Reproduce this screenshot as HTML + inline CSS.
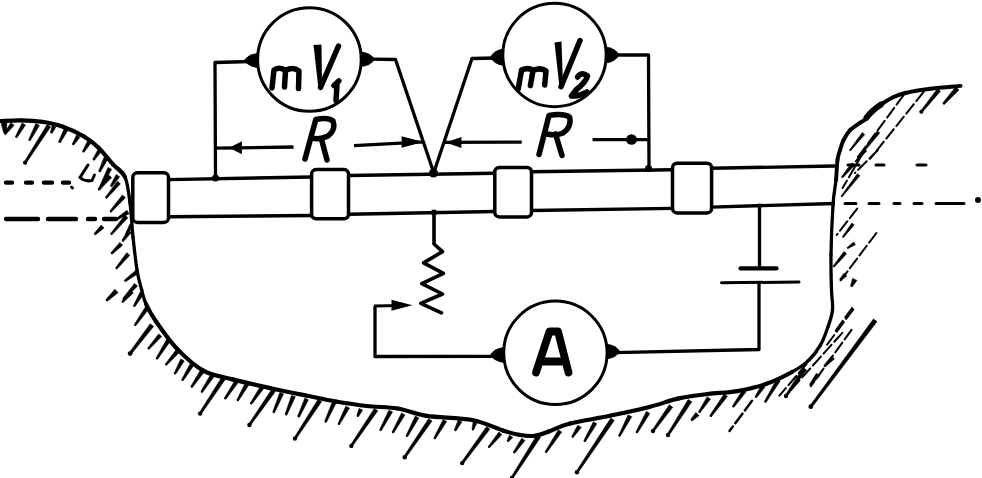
<!DOCTYPE html>
<html><head><meta charset="utf-8"><title>Pipe potential measurement diagram</title>
<style>html,body{margin:0;padding:0;background:#fff;width:982px;height:478px;overflow:hidden;font-family:"Liberation Sans",sans-serif}svg{display:block}</style>
</head><body>
<svg width="982" height="478" viewBox="0 0 982 478"><path d="M0.0 121.0 C3.5 120.9 14.0 120.2 21.0 120.3" fill="none" stroke="#000" stroke-width="4.2" stroke-linecap="round"/>
<path d="M21.0 120.3 C28.0 120.4 35.0 120.7 42.0 121.8" fill="none" stroke="#000" stroke-width="4.2" stroke-linecap="round"/>
<path d="M42.0 121.8 C49.0 122.9 56.0 124.3 63.0 126.8" fill="none" stroke="#000" stroke-width="4.2" stroke-linecap="round"/>
<path d="M63.0 126.8 C70.0 129.2 78.2 133.1 84.0 136.5" fill="none" stroke="#000" stroke-width="4.2" stroke-linecap="round"/>
<path d="M84.0 136.5 C89.8 139.9 93.2 142.6 98.0 147.2" fill="none" stroke="#000" stroke-width="4.2" stroke-linecap="round"/>
<path d="M98.0 147.2 C102.8 151.8 108.5 159.3 113.0 164.3" fill="none" stroke="#000" stroke-width="4.2" stroke-linecap="round"/>
<path d="M113.0 164.3 C117.5 169.3 122.2 170.6 125.0 177.0" fill="none" stroke="#000" stroke-width="4.2" stroke-linecap="round"/>
<path d="M125.0 177.0 C127.8 183.4 128.7 193.0 130.0 203.0" fill="none" stroke="#000" stroke-width="3.3" stroke-linecap="round"/>
<path d="M130.0 203.0 C131.3 213.0 131.8 225.8 133.0 237.0" fill="none" stroke="#000" stroke-width="3.3" stroke-linecap="round"/>
<path d="M133.0 237.0 C134.2 248.2 135.6 261.2 137.0 270.0" fill="none" stroke="#000" stroke-width="3.3" stroke-linecap="round"/>
<path d="M137.0 270.0 C138.4 278.8 140.2 284.3 141.7 290.0" fill="none" stroke="#000" stroke-width="3.3" stroke-linecap="round"/>
<path d="M141.7 290.0 C143.2 295.7 143.6 298.7 146.0 304.0" fill="none" stroke="#000" stroke-width="3.3" stroke-linecap="round"/>
<path d="M146.0 304.0 C148.4 309.3 151.2 314.6 156.4 322.0" fill="none" stroke="#000" stroke-width="4.2" stroke-linecap="round"/>
<path d="M156.4 322.0 C161.6 329.4 169.1 340.5 176.9 348.6" fill="none" stroke="#000" stroke-width="4.2" stroke-linecap="round"/>
<path d="M176.9 348.6 C184.7 356.7 194.0 365.5 203.3 370.6" fill="none" stroke="#000" stroke-width="4.2" stroke-linecap="round"/>
<path d="M203.3 370.6 C212.6 375.7 221.4 376.5 232.6 379.4" fill="none" stroke="#000" stroke-width="4.2" stroke-linecap="round"/>
<path d="M232.6 379.4 C243.8 382.3 258.5 385.5 270.7 388.2" fill="none" stroke="#000" stroke-width="4.2" stroke-linecap="round"/>
<path d="M270.7 388.2 C282.9 390.9 295.0 393.3 305.9 395.5" fill="none" stroke="#000" stroke-width="4.2" stroke-linecap="round"/>
<path d="M305.9 395.5 C316.8 397.7 325.9 399.8 336.0 401.5" fill="none" stroke="#000" stroke-width="4.2" stroke-linecap="round"/>
<path d="M336.0 401.5 C346.1 403.2 356.5 404.8 366.8 406.0" fill="none" stroke="#000" stroke-width="4.2" stroke-linecap="round"/>
<path d="M366.8 406.0 C377.1 407.2 387.9 406.9 397.8 408.5" fill="none" stroke="#000" stroke-width="4.2" stroke-linecap="round"/>
<path d="M397.8 408.5 C407.7 410.1 414.0 413.9 426.4 415.8" fill="none" stroke="#000" stroke-width="4.2" stroke-linecap="round"/>
<path d="M426.4 415.8 C438.8 417.7 459.5 417.6 472.2 420.0" fill="none" stroke="#000" stroke-width="4.2" stroke-linecap="round"/>
<path d="M472.2 420.0 C484.9 422.4 495.0 428.0 502.8 430.5" fill="none" stroke="#000" stroke-width="4.2" stroke-linecap="round"/>
<path d="M502.8 430.5 C510.6 433.0 513.6 433.9 519.0 434.8" fill="none" stroke="#000" stroke-width="4.2" stroke-linecap="round"/>
<path d="M519.0 434.8 C524.4 435.7 530.0 436.4 535.0 435.8" fill="none" stroke="#000" stroke-width="4.2" stroke-linecap="round"/>
<path d="M535.0 435.8 C540.0 435.2 542.9 433.6 548.7 431.5" fill="none" stroke="#000" stroke-width="4.2" stroke-linecap="round"/>
<path d="M548.7 431.5 C554.5 429.4 559.8 426.1 570.0 423.5" fill="none" stroke="#000" stroke-width="4.2" stroke-linecap="round"/>
<path d="M570.0 423.5 C580.2 420.9 596.5 418.6 609.7 415.8" fill="none" stroke="#000" stroke-width="4.2" stroke-linecap="round"/>
<path d="M609.7 415.8 C622.9 413.1 637.8 409.9 649.3 407.0" fill="none" stroke="#000" stroke-width="4.2" stroke-linecap="round"/>
<path d="M649.3 407.0 C660.8 404.1 668.8 400.6 678.6 398.4" fill="none" stroke="#000" stroke-width="4.2" stroke-linecap="round"/>
<path d="M678.6 398.4 C688.4 396.2 698.1 395.2 707.9 394.0" fill="none" stroke="#000" stroke-width="4.2" stroke-linecap="round"/>
<path d="M707.9 394.0 C717.7 392.8 727.4 392.8 737.2 391.1" fill="none" stroke="#000" stroke-width="4.2" stroke-linecap="round"/>
<path d="M737.2 391.1 C747.0 389.4 757.4 387.0 766.5 383.8" fill="none" stroke="#000" stroke-width="4.2" stroke-linecap="round"/>
<path d="M766.5 383.8 C775.6 380.6 785.1 375.8 792.0 372.0" fill="none" stroke="#000" stroke-width="4.2" stroke-linecap="round"/>
<path d="M792.0 372.0 C798.9 368.2 803.0 365.5 807.7 361.1" fill="none" stroke="#000" stroke-width="3.3" stroke-linecap="round"/>
<path d="M807.7 361.1 C812.4 356.7 816.9 351.2 820.3 345.4" fill="none" stroke="#000" stroke-width="3.3" stroke-linecap="round"/>
<path d="M820.3 345.4 C823.7 339.6 826.1 332.4 828.1 326.5" fill="none" stroke="#000" stroke-width="3.3" stroke-linecap="round"/>
<path d="M828.1 326.5 C830.1 320.6 831.9 316.1 832.5 310.0" fill="none" stroke="#000" stroke-width="3.3" stroke-linecap="round"/>
<path d="M832.5 310.0 C833.1 303.9 831.8 299.2 831.5 290.0" fill="none" stroke="#000" stroke-width="3.3" stroke-linecap="round"/>
<path d="M831.5 290.0 C831.2 280.8 830.8 269.0 831.0 254.8" fill="none" stroke="#000" stroke-width="3.3" stroke-linecap="round"/>
<path d="M831.0 254.8 C831.2 240.6 832.2 217.5 833.0 205.0" fill="none" stroke="#000" stroke-width="3.3" stroke-linecap="round"/>
<path d="M833.0 205.0 C833.8 192.5 835.2 187.5 836.0 180.0" fill="none" stroke="#000" stroke-width="3.3" stroke-linecap="round"/>
<path d="M836.0 180.0 C836.8 172.5 836.8 164.9 837.5 160.0" fill="none" stroke="#000" stroke-width="3.9" stroke-linecap="round"/>
<path d="M837.5 160.0 C838.2 155.1 839.0 153.6 840.0 150.3" fill="none" stroke="#000" stroke-width="3.9" stroke-linecap="round"/>
<path d="M840.0 150.3 C841.0 147.0 841.7 143.7 843.4 140.3" fill="none" stroke="#000" stroke-width="3.9" stroke-linecap="round"/>
<path d="M843.4 140.3 C845.1 137.0 847.3 133.1 850.1 130.2" fill="none" stroke="#000" stroke-width="3.9" stroke-linecap="round"/>
<path d="M850.1 130.2 C852.9 127.3 857.3 124.7 860.1 122.7" fill="none" stroke="#000" stroke-width="3.9" stroke-linecap="round"/>
<path d="M860.1 122.7 C862.9 120.8 865.1 120.0 866.8 118.5" fill="none" stroke="#000" stroke-width="3.9" stroke-linecap="round"/>
<path d="M866.8 118.5 C868.5 117.0 868.0 115.7 870.2 113.5" fill="none" stroke="#000" stroke-width="3.9" stroke-linecap="round"/>
<path d="M870.2 113.5 C872.4 111.3 876.3 107.8 880.2 105.1" fill="none" stroke="#000" stroke-width="3.9" stroke-linecap="round"/>
<path d="M880.2 105.1 C884.1 102.3 889.4 99.0 893.6 97.0" fill="none" stroke="#000" stroke-width="3.9" stroke-linecap="round"/>
<path d="M893.6 97.0 C897.8 95.0 899.2 94.4 905.4 93.0" fill="none" stroke="#000" stroke-width="3.9" stroke-linecap="round"/>
<path d="M905.4 93.0 C911.5 91.6 921.3 90.0 930.5 88.8" fill="none" stroke="#000" stroke-width="3.9" stroke-linecap="round"/>
<path d="M930.5 88.8 C939.7 87.6 955.6 86.4 960.6 85.9" fill="none" stroke="#000" stroke-width="3.9" stroke-linecap="round"/>
<path d="M866.5 117.5 Q872 110.5 881 104.5" fill="none" stroke="#000" stroke-width="6" stroke-linecap="round"/>
<path d="M752.0 400.8 L729.5 431.0" stroke="#000" stroke-width="2.5" stroke-linecap="round" stroke-dasharray="12 4"/>
<path d="M853.3 309.3 L826.5 345.4" stroke="#000" stroke-width="2.0" stroke-linecap="round" stroke-dasharray="12 4"/>
<path d="M851.7 329.7 L810.8 386.2" stroke="#000" stroke-width="2.0" stroke-linecap="round" stroke-dasharray="12 4"/>
<path d="M842.3 332.8 L785.7 395.7" stroke="#000" stroke-width="2.0" stroke-linecap="round" stroke-dasharray="12 4"/>
<path d="M817.1 351.7 L779.4 395.7" stroke="#000" stroke-width="2.0" stroke-linecap="round" stroke-dasharray="12 4"/>
<path d="M852.2 307.9 L833.8 333.2" stroke="#000" stroke-width="1.9" stroke-linecap="round" stroke-dasharray="12 4"/>
<path d="M876.4 233.0 L840.7 280.3" stroke="#000" stroke-width="2.0" stroke-linecap="round" stroke-dasharray="12 4"/>
<path d="M857.2 208.6 L836.7 235.0" stroke="#000" stroke-width="2.0" stroke-linecap="round" stroke-dasharray="12 4"/>
<path d="M878.0 150.0 L855.0 173.0" stroke="#000" stroke-width="2.0" stroke-linecap="round" stroke-dasharray="12 4"/>
<path d="M863.0 153.0 L842.6 188.0" stroke="#000" stroke-width="2.0" stroke-linecap="round" stroke-dasharray="12 4"/>
<path d="M923.8 91.7 L870.2 158.7" stroke="#000" stroke-width="2.0" stroke-linecap="round" stroke-dasharray="12 4"/>
<path d="M903.7 95.0 L856.8 158.7" stroke="#000" stroke-width="2.0" stroke-linecap="round" stroke-dasharray="12 4"/>
<path d="M1.2 123.3 L3.5 132.2 L6.5 131.8 L6.8 122.7 Z M10.9 122.8 L4.2 133.2 L5.8 134.4 L14.1 125.2 Z M22.1 123.0 L15.5 136.5 L17.1 137.5 L25.5 125.0 Z M35.8 123.6 L28.7 139.7 L30.3 140.5 L39.4 125.4 Z M47.2 124.6 L24.2 162.1 L26.0 163.3 L50.6 126.8 Z M52.2 125.5 L50.5 132.2 L52.3 133.0 L55.8 127.1 Z M64.2 128.6 L58.7 141.6 L60.5 142.4 L67.8 130.4 Z M76.6 135.0 L72.4 143.7 L74.0 144.7 L80.0 137.2 Z M87.6 140.9 L82.6 151.0 L84.2 152.0 L91.0 143.1 Z M98.3 148.9 L92.9 159.1 L94.5 160.1 L101.7 151.1 Z M104.2 157.1 L98.7 170.9 L100.5 171.7 L107.8 158.9 Z M108.0 167.5 L98.7 188.5 L100.5 189.3 L111.6 169.3 Z M116.2 174.6 L110.5 185.4 L112.1 186.4 L119.6 176.8 Z M108.6 175.0 L98.1 188.8 L99.5 190.0 L111.6 177.6 Z M117.4 181.2 L105.6 197.0 L107.0 198.2 L120.4 183.8 Z M122.4 195.1 L110.0 210.8 L111.4 212.0 L125.4 197.7 Z M126.9 210.3 L116.5 218.2 L117.5 219.8 L129.1 213.7 Z M101.2 225.1 L94.3 233.3 L95.7 234.7 L104.0 227.9 Z M124.9 215.2 L110.7 233.4 L112.1 234.6 L127.9 217.8 Z M129.8 224.3 L125.6 233.5 L127.2 234.5 L133.2 226.3 Z M128.2 230.1 L122.0 240.1 L123.6 241.3 L131.4 232.5 Z M119.8 242.4 L111.1 252.6 L112.5 254.0 L122.6 245.2 Z M126.8 252.7 L115.8 267.6 L117.2 268.8 L129.8 255.3 Z M135.7 270.4 L124.5 280.0 L125.7 281.6 L138.1 273.6 Z M134.5 283.4 L122.9 298.2 L124.3 299.4 L137.5 286.0 Z M114.9 289.3 L106.2 299.2 L107.8 300.8 L118.1 292.7 Z M130.3 290.3 L121.9 301.1 L123.3 302.3 L133.3 293.1 Z M140.1 292.3 L133.5 305.4 L135.1 306.4 L143.5 294.3 Z M145.2 307.3 L134.3 324.6 L135.9 325.6 L148.4 309.5 Z M150.2 323.8 L129.1 352.9 L131.1 354.3 L153.6 326.4 Z M158.7 333.9 L147.8 348.0 L149.2 349.2 L161.7 336.5 Z M166.9 339.1 L156.1 358.1 L157.7 359.1 L170.3 341.3 Z M175.5 350.6 L165.4 363.9 L166.8 365.1 L178.5 353.2 Z M180.8 359.0 L174.2 372.9 L175.8 373.9 L184.2 361.0 Z M190.0 364.0 L181.7 379.6 L183.3 380.6 L193.4 366.0 Z M200.1 370.7 L190.9 386.3 L192.5 387.3 L203.5 372.9 Z M210.9 374.0 L201.0 391.3 L202.6 392.3 L214.3 376.2 Z M221.8 377.2 L199.2 413.0 L201.0 414.2 L225.2 379.6 Z M235.2 379.9 L224.4 398.0 L226.0 399.0 L238.6 382.1 Z M245.2 383.3 L236.9 399.7 L238.5 400.7 L248.6 385.3 Z M260.4 386.5 L250.3 403.0 L251.9 404.0 L263.6 388.7 Z M272.0 389.0 L248.5 424.4 L250.3 425.6 L275.4 391.4 Z M279.9 392.4 L272.8 411.8 L274.6 412.6 L283.5 394.0 Z M291.5 395.4 L285.2 414.0 L287.0 414.8 L295.3 396.8 Z M304.8 398.2 L297.7 416.2 L299.5 417.0 L308.4 399.8 Z M318.0 399.4 L294.0 438.0 L295.8 439.2 L321.6 401.6 Z M332.6 401.2 L324.7 421.3 L326.5 422.1 L336.2 402.8 Z M345.8 406.2 L338.0 423.6 L339.6 424.4 L349.4 408.0 Z M359.0 408.5 L356.9 415.5 L358.7 416.3 L362.6 410.1 Z M374.4 408.4 L350.4 445.3 L352.2 446.5 L377.8 410.8 Z M388.9 410.2 L379.7 429.6 L381.3 430.6 L392.5 412.0 Z M401.5 413.0 L392.2 431.8 L393.8 432.8 L404.9 415.0 Z M415.3 416.1 L406.1 435.5 L407.7 436.5 L418.9 417.9 Z M428.6 418.7 L403.8 456.6 L405.6 457.8 L432.0 421.1 Z M443.2 419.6 L433.9 437.7 L435.5 438.7 L446.6 421.6 Z M458.2 420.1 L454.4 429.8 L456.2 430.6 L461.8 421.9 Z M473.3 421.2 L472.0 429.1 L473.8 429.7 L477.1 422.4 Z M486.5 426.7 L461.3 462.4 L463.1 463.8 L489.9 429.1 Z M498.9 432.0 L488.3 446.4 L489.7 447.6 L501.9 434.6 Z M509.4 435.2 L507.2 440.4 L508.8 441.4 L512.8 437.4 Z M521.7 438.3 L513.4 451.9 L515.0 452.9 L524.9 440.5 Z M536.8 435.2 L511.0 477.4 L512.8 478.6 L540.4 437.4 Z M558.3 429.9 L545.2 451.5 L546.8 452.5 L561.7 432.1 Z M577.8 425.2 L571.8 436.2 L573.4 437.2 L581.2 427.4 Z M593.4 421.8 L583.9 440.5 L585.5 441.5 L596.8 423.8 Z M610.8 418.1 L576.0 471.7 L577.8 472.9 L614.2 420.5 Z M628.1 414.9 L618.6 435.4 L620.2 436.2 L631.7 416.7 Z M646.4 411.4 L636.0 431.8 L637.6 432.8 L649.8 413.4 Z M669.3 404.8 L652.1 430.4 L653.9 431.6 L672.7 407.2 Z M688.2 399.6 L667.1 434.4 L668.9 435.6 L691.8 401.8 Z M707.1 396.9 L698.6 411.5 L700.2 412.5 L710.5 399.1 Z M695.9 412.4 L691.2 418.8 L692.8 420.4 L699.1 415.6 Z M724.2 394.0 L709.9 415.3 L711.5 416.5 L727.4 396.4 Z M743.0 389.3 L732.5 405.9 L734.1 407.1 L746.2 391.7 Z M761.7 384.7 L755.1 396.5 L756.7 397.5 L765.1 386.9 Z M776.8 379.0 L764.5 401.3 L766.1 402.3 L780.2 381.0 Z M803.1 367.6 L785.1 395.4 L786.9 396.6 L806.5 370.0 Z M816.4 373.3 L809.7 384.2 L811.3 385.4 L819.6 375.7 Z M831.6 356.1 L823.9 365.3 L825.3 366.7 L834.4 358.9 Z M873.4 319.0 L809.8 406.0 L811.8 407.4 L877.0 321.6 Z M852.7 278.4 L850.7 285.2 L852.7 286.2 L856.9 280.4 Z M844.0 273.3 L840.0 278.7 L841.4 280.1 L846.8 276.1 Z M853.6 242.1 L847.2 247.5 L848.0 248.5 L855.4 244.7 Z M844.0 251.5 L833.2 265.9 L834.4 266.9 L846.6 253.7 Z M851.8 223.1 L842.5 236.6 L843.5 237.4 L854.2 224.9 Z M857.4 173.8 L841.1 196.0 L842.1 196.8 L859.8 175.8 Z M851.8 162.8 L841.7 176.5 L843.1 177.5 L854.6 165.2 Z M864.4 149.0 L855.0 161.2 L856.0 162.0 L866.8 151.0 Z M955.6 86.9 L943.1 102.7 L944.7 104.1 L959.0 89.9 Z M937.4 88.8 L920.5 111.2 L922.1 112.4 L940.4 91.2 Z M862.3 132.6 L849.6 149.9 L850.6 150.7 L864.7 134.6 Z M877.4 130.9 L857.9 156.5 L859.1 157.5 L879.8 132.9 Z" fill="#000" stroke="#000" stroke-width="0.6" stroke-linejoin="round"/>
<circle cx="5.0" cy="132.0" r="1.6"/><circle cx="5.0" cy="133.8" r="1.0"/><circle cx="16.3" cy="137.0" r="1.0"/><circle cx="29.5" cy="140.1" r="1.0"/><circle cx="25.1" cy="162.7" r="2.1"/><circle cx="51.4" cy="132.6" r="1.0"/><circle cx="59.6" cy="142.0" r="1.0"/><circle cx="73.2" cy="144.2" r="1.0"/><circle cx="83.4" cy="151.5" r="1.0"/><circle cx="93.7" cy="159.6" r="1.0"/><circle cx="99.6" cy="171.3" r="1.0"/><circle cx="99.6" cy="188.9" r="1.0"/><circle cx="111.3" cy="185.9" r="1.0"/><circle cx="98.8" cy="189.4" r="1.0"/><circle cx="106.3" cy="197.6" r="1.0"/><circle cx="110.7" cy="211.4" r="1.0"/><circle cx="117.0" cy="219.0" r="1.0"/><circle cx="95.0" cy="234.0" r="1.0"/><circle cx="111.4" cy="234.0" r="1.0"/><circle cx="126.4" cy="234.0" r="1.0"/><circle cx="122.8" cy="240.7" r="1.0"/><circle cx="111.8" cy="253.3" r="1.0"/><circle cx="116.5" cy="268.2" r="1.0"/><circle cx="125.1" cy="280.8" r="1.0"/><circle cx="123.6" cy="298.8" r="1.0"/><circle cx="107.0" cy="300.0" r="1.3"/><circle cx="122.6" cy="301.7" r="1.0"/><circle cx="134.3" cy="305.9" r="1.0"/><circle cx="135.1" cy="325.1" r="1.0"/><circle cx="130.1" cy="353.6" r="2.4"/><circle cx="148.5" cy="348.6" r="1.0"/><circle cx="156.9" cy="358.6" r="1.0"/><circle cx="166.1" cy="364.5" r="1.0"/><circle cx="175.0" cy="373.4" r="1.0"/><circle cx="182.5" cy="380.1" r="1.0"/><circle cx="191.7" cy="386.8" r="1.0"/><circle cx="201.8" cy="391.8" r="1.0"/><circle cx="200.1" cy="413.6" r="2.2"/><circle cx="225.2" cy="398.5" r="1.0"/><circle cx="237.7" cy="400.2" r="1.0"/><circle cx="251.1" cy="403.5" r="1.0"/><circle cx="249.4" cy="425.0" r="2.2"/><circle cx="273.7" cy="412.2" r="1.0"/><circle cx="286.1" cy="414.4" r="1.0"/><circle cx="298.6" cy="416.6" r="1.0"/><circle cx="294.9" cy="438.6" r="2.2"/><circle cx="325.6" cy="421.7" r="1.0"/><circle cx="338.8" cy="424.0" r="1.0"/><circle cx="357.8" cy="415.9" r="1.0"/><circle cx="351.3" cy="445.9" r="2.2"/><circle cx="380.5" cy="430.1" r="1.0"/><circle cx="393.0" cy="432.3" r="1.0"/><circle cx="406.9" cy="436.0" r="1.0"/><circle cx="404.7" cy="457.2" r="2.2"/><circle cx="434.7" cy="438.2" r="1.0"/><circle cx="455.3" cy="430.2" r="1.0"/><circle cx="472.9" cy="429.4" r="1.0"/><circle cx="462.2" cy="463.1" r="2.2"/><circle cx="489.0" cy="447.0" r="1.0"/><circle cx="508.0" cy="440.9" r="1.0"/><circle cx="514.2" cy="452.4" r="1.0"/><circle cx="511.9" cy="478.0" r="2.2"/><circle cx="546.0" cy="452.0" r="1.0"/><circle cx="572.6" cy="436.7" r="1.0"/><circle cx="584.7" cy="441.0" r="1.0"/><circle cx="576.9" cy="472.3" r="2.2"/><circle cx="619.4" cy="435.8" r="1.0"/><circle cx="636.8" cy="432.3" r="1.0"/><circle cx="653.0" cy="431.0" r="2.2"/><circle cx="668.0" cy="435.0" r="2.2"/><circle cx="699.4" cy="412.0" r="1.0"/><circle cx="692.0" cy="419.6" r="1.3"/><circle cx="710.7" cy="415.9" r="1.0"/><circle cx="733.3" cy="406.5" r="1.0"/><circle cx="755.9" cy="397.0" r="1.0"/><circle cx="765.3" cy="401.8" r="1.0"/><circle cx="786.0" cy="396.0" r="2.2"/><circle cx="810.5" cy="384.8" r="1.0"/><circle cx="824.6" cy="366.0" r="1.0"/><circle cx="810.8" cy="406.7" r="2.4"/><circle cx="851.7" cy="285.7" r="1.3"/><circle cx="840.7" cy="279.4" r="1.1"/><circle cx="847.6" cy="248.0" r="0.7"/><circle cx="833.8" cy="266.4" r="0.8"/><circle cx="843.0" cy="237.0" r="0.7"/><circle cx="841.6" cy="196.4" r="0.7"/><circle cx="842.4" cy="177.0" r="0.9"/><circle cx="855.5" cy="161.6" r="0.7"/><circle cx="943.9" cy="103.4" r="1.2"/><circle cx="921.3" cy="111.8" r="2.0"/><circle cx="850.1" cy="150.3" r="0.7"/><circle cx="858.5" cy="157.0" r="1.5"/>
<path d="M6.0 182.6 L12.0 182.6 M26.0 182.6 L32.0 182.6 M44.0 182.6 L52.0 182.6 M63.0 182.6 L69.0 182.6 M6.0 219.0 L38.0 219.0 M48.0 219.0 L76.0 219.0 M88.0 219.0 L95.0 219.0 M104.0 219.0 L116.0 219.0" fill="none" stroke="#000" stroke-width="4.4" stroke-linecap="round"/>
<path d="M71.5 187 L72.5 188 M88 165 L80 177.5 Q85 182 92 180.5 L94.5 175" fill="none" stroke="#000" stroke-width="3" stroke-linecap="round"/>
<path d="M848.0 165.0 L859.0 165.0 M876.0 165.0 L884.0 165.0 M917.0 165.0 L926.0 165.0 M845.0 203.4 L856.0 203.4 M869.0 203.4 L879.0 203.4 M894.0 203.4 L900.0 203.4 M914.0 203.4 L922.0 203.4 M936.0 203.4 L964.0 203.4" fill="none" stroke="#000" stroke-width="3" stroke-linecap="round"/>
<circle cx="978" cy="200" r="3" fill="#000"/>
<path d="M168.5 179.6 L311.6 177.0 M348.5 175.5 L494.8 173.3 M531.5 171.8 L672.5 169.7 M711.6 168.3 L835.0 166.0 M168.5 216.8 L311.6 215.5 M348.5 214.3 L494.8 211.5 M531.5 210.5 L672.5 208.4 M711.6 207.1 L835.0 203.5" fill="none" stroke="#000" stroke-width="3.4" stroke-linecap="butt"/>
<rect x="132.8" y="172.8" width="35.7" height="49.6" rx="4.5" fill="#fff" stroke="#000" stroke-width="3.5"/>
<rect x="311.6" y="169.6" width="36.9" height="49.2" rx="4.5" fill="#fff" stroke="#000" stroke-width="3.5"/>
<rect x="494.8" y="167.5" width="36.7" height="49.4" rx="4.5" fill="#fff" stroke="#000" stroke-width="3.5"/>
<rect x="672.5" y="163.2" width="39.1" height="49.7" rx="4.5" fill="#fff" stroke="#000" stroke-width="3.5"/>
<circle cx="309.4" cy="59.5" r="51.8" fill="none" stroke="#000" stroke-width="3"/>
<circle cx="554.5" cy="55.0" r="51.7" fill="none" stroke="#000" stroke-width="3"/>
<circle cx="555.4" cy="352.8" r="51.7" fill="none" stroke="#000" stroke-width="3"/>
<path d="M258.0 53.0 Q248.2 54.1 244.0 60.5 Q248.2 66.9 258.0 68.0 Z" fill="#000"/>
<path d="M361.0 51.5 Q370.8 52.7 375.0 59.3 Q370.8 65.9 361.0 67.1 Z" fill="#000"/>
<path d="M503.0 48.8 Q493.9 50.1 490.0 57.3 Q493.9 64.5 503.0 65.8 Z" fill="#000"/>
<path d="M605.5 46.5 Q615.3 47.8 619.5 55.0 Q615.3 62.2 605.5 63.5 Z" fill="#000"/>
<path d="M504.0 347.0 Q494.2 348.2 490.0 355.0 Q494.2 361.8 504.0 363.0 Z" fill="#000"/>
<path d="M607.0 343.7 Q616.1 344.9 620.0 351.5 Q616.1 358.1 607.0 359.3 Z" fill="#000"/>
<path d="M250 61.5 L215 62.5 L215.5 178 M370 59.2 L395.5 59.5 L433.5 172 M496 58 L472 58.5 L434 172 M612 55 L648.5 55 L649 168 M216 148.2 L293.5 147 M354 145.6 L424 141.8 M445 142.4 L521.7 142.1 M592.5 139.7 L648 139.7 M375 306 L375 356.5 L492 356.4 M759.5 205 L759.5 268 M759 283 L759 349.5 L614 352.6" fill="none" stroke="#000" stroke-width="3.3" stroke-linejoin="round"/>
<path d="M434 212 L434 244 L442.5 251.6 L423.6 262.9 L443.4 273.3 L421.8 283.6 L442.5 294 L420.8 303.4 L441.5 312.8" fill="none" stroke="#000" stroke-width="3.6" stroke-linejoin="round" stroke-linecap="round"/>
<path d="M374 306 L400 305.5" stroke="#000" stroke-width="3"/>
<path d="M740.5 268.4 L776.5 268.4" stroke="#000" stroke-width="4.2" stroke-linecap="round"/>
<path d="M721.5 282.8 L799 282" stroke="#000" stroke-width="3" stroke-linecap="round"/>
<path d="M229.0 147.8 L242.0 141.3 Q241.6 147.8 242.0 154.3 Z" fill="#000"/>
<path d="M423.5 142.0 L401.5 136.2 Q402.2 142.0 401.5 147.8 Z" fill="#000"/>
<path d="M445.5 142.4 L461.5 136.9 Q461.0 142.4 461.5 147.9 Z" fill="#000"/>
<ellipse cx="631.5" cy="139.5" rx="5.4" ry="5.3"/>
<path d="M412.4 305.3 L391.4 299.8 Q392.0 305.3 391.4 310.8 Z" fill="#000"/>
<circle cx="215.5" cy="178.0" r="3.5" fill="#000"/>
<circle cx="433.5" cy="173.0" r="4.5" fill="#000"/>
<circle cx="648.5" cy="168.5" r="3.5" fill="#000"/>
<circle cx="434.0" cy="212.5" r="3.0" fill="#000"/>
<circle cx="759.5" cy="205.5" r="2.0" fill="#000"/>
<path d="M272 88 L274 70 Q280 66.3 285.5 70.5 L284.5 87 M285.5 70.5 Q293 66.3 299 71 L298.5 88.5 M320.5 87.5 L338.5 46 M338.8 81 L334 85.5 M337 84.5 L336 100.5 M518.2 89 L521.6 70 Q528 67 533 70.5 L530.4 85.6 M533 70.5 Q541 67 546 71 L544.7 85 M561 86.7 L580 40.5 M577.5 77 Q582 71.5 587.5 76 Q586 82 576 90 L571.5 96 Q579 96.5 587 92 M305 159 L315.8 119.5 Q328 117 333 121 Q336 130 328 136 Q320 140 312 138 M321.4 138.9 L327 160 M539 154.5 L549 115.5 Q563 113 569.5 117 Q572 127 563 133 Q556 136 547 134 M555.5 134 L562 155.5" fill="none" stroke="#000" stroke-width="5.5" stroke-linecap="round" stroke-linejoin="round"/>
<path d="M313.5 45 L321.5 44.5 L322 87 L318.5 89 Z" fill="#000"/>
<path d="M554.5 42.5 L561.5 41.5 L563 86 L559.5 87.5 Z" fill="#000"/>
<path d="M536 372.5 L549.5 331.5 L558 331.5 L568.5 372.5 M541 361.5 L565 361.5" fill="none" stroke="#000" stroke-width="7.8" stroke-linecap="round" stroke-linejoin="round"/></svg>
</body></html>
